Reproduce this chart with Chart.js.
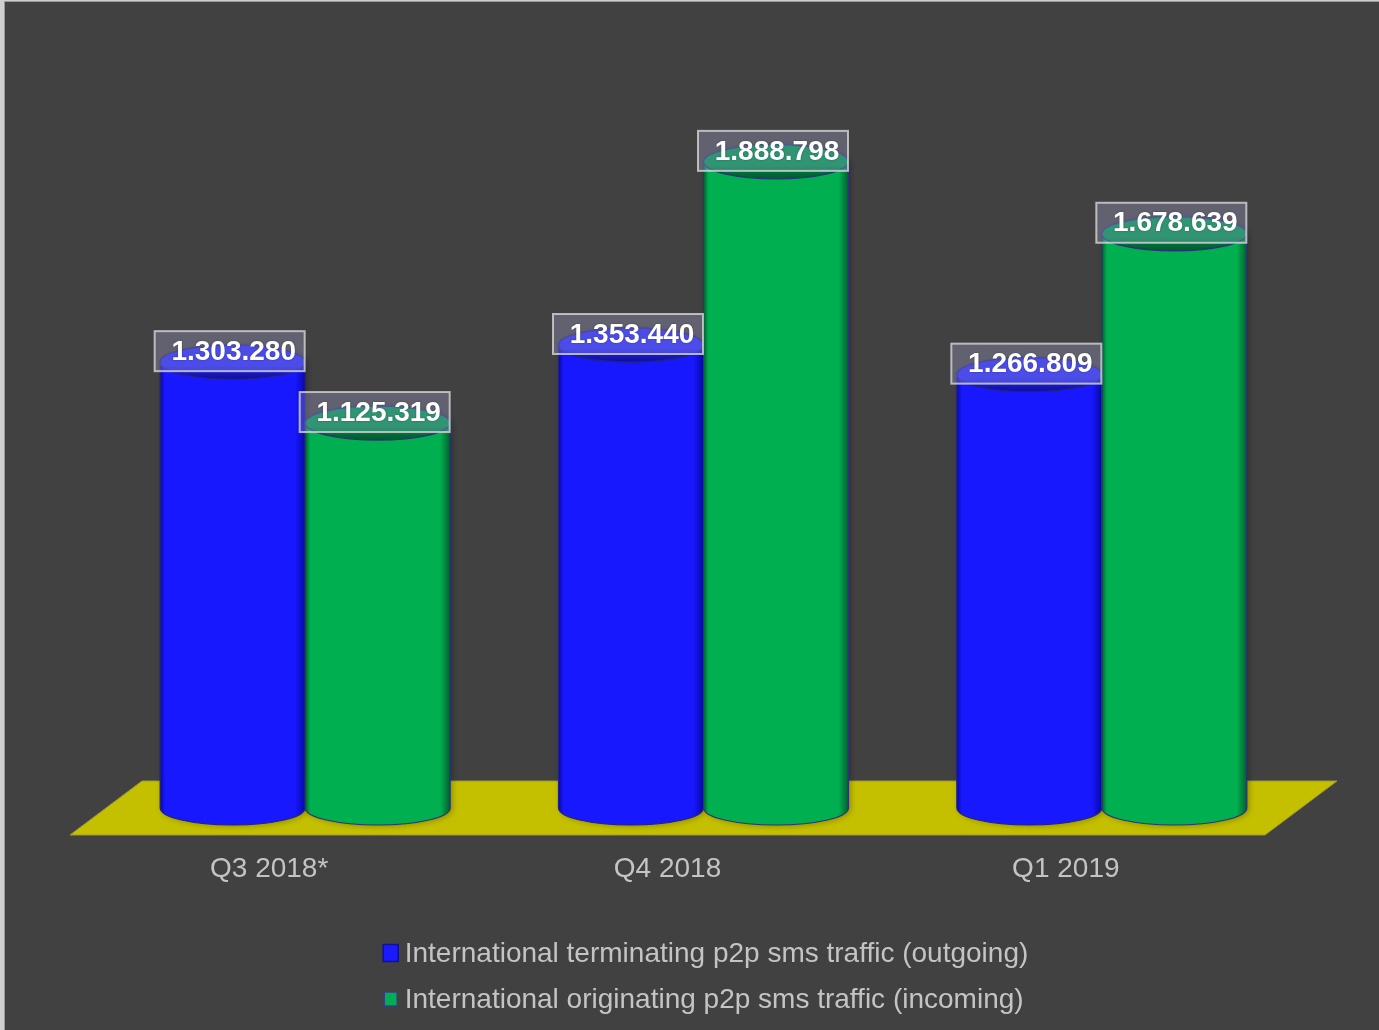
<!DOCTYPE html>
<html>
<head>
<meta charset="utf-8">
<title>International p2p SMS traffic</title>
<script src="https://cdn.jsdelivr.net/npm/chart.js@4/dist/chart.umd.min.js"></script>
<style>
  html, body { margin: 0; padding: 0; background: #404040; }
  canvas { display: block; }
</style>
</head>
<body>
<canvas id="chart" width="1379" height="1030"></canvas>
<script>
// Quarterly international person-to-person SMS traffic
const categories = ['Q3 2018*', 'Q4 2018', 'Q1 2019'];
const seriesNames = [
  'International terminating p2p sms traffic (outgoing)',
  'International originating p2p sms traffic (incoming)'
];
const outgoing = [1303280, 1353440, 1266809];
const incoming = [1125319, 1888798, 1678639];

const FONT = '"Liberation Sans", Arial, sans-serif';
const TEXT_GREY = '#c4c4c4';

// pseudo-3D depth: bars stand half way back on the floor
const DEPTH_X = 72, DEPTH_Y = 54;
const DX = DEPTH_X / 2, DY = -DEPTH_Y / 2;
const RY = 17; // vertical radius of cylinder ellipses

const palettes = [
  { main: '#1818ff', edge: '#0808a8', topA: '#2525e2', topB: '#0d0da0', line: '#23237a', key: '#1a1aff', keyLine: '#12128c' },
  { main: '#00b050', edge: '#005f2e', topA: '#008444', topB: '#005a2e', line: '#2b3478', key: '#00b050', keyLine: '#3a3a86' }
];

function fmt(v) {
  return String(v).replace(/\B(?=(\d{3})+(?!\d))/g, '.');
}

const backdrop = {
  id: 'backdrop',
  beforeDraw(chart) {
    const c = chart.ctx, W = chart.width, H = chart.height;
    c.save();
    c.fillStyle = '#cfcfcf';
    c.fillRect(0, 0, W, H);
    c.fillStyle = '#9a9a9a';
    c.fillRect(4, 1, W, H);
    c.fillStyle = '#414141';
    c.fillRect(5, 2, W, H);
    c.restore();
  }
};

const floor = {
  id: 'floor',
  beforeDatasetsDraw(chart) {
    const c = chart.ctx, a = chart.chartArea;
    c.save();
    c.beginPath();
    c.moveTo(a.left, a.bottom);
    c.lineTo(a.right, a.bottom);
    c.lineTo(a.right + DEPTH_X, a.bottom - DEPTH_Y);
    c.lineTo(a.left + DEPTH_X, a.bottom - DEPTH_Y);
    c.closePath();
    c.fillStyle = '#c4c000';
    c.fill();
    c.strokeStyle = '#9c9832';
    c.lineWidth = 1;
    c.stroke();
    c.restore();
  }
};

function drawCylinder(c, x, top, base, w, p) {
  const rx = w / 2;
  // body
  c.save();
  c.beginPath();
  c.moveTo(x - rx, top);
  c.lineTo(x - rx, base);
  c.ellipse(x, base, rx, RY, 0, Math.PI, 0, true);
  c.lineTo(x + rx, top);
  c.ellipse(x, top, rx, RY, 0, 0, Math.PI, true);
  c.closePath();
  const g = c.createLinearGradient(x - rx, 0, x + rx, 0);
  g.addColorStop(0, p.edge);
  g.addColorStop(0.035, p.main);
  g.addColorStop(0.93, p.main);
  g.addColorStop(1, p.edge);
  c.shadowColor = 'rgba(0,0,0,0.3)';
  c.shadowBlur = 6;
  c.shadowOffsetX = 2;
  c.shadowOffsetY = 1;
  c.fillStyle = g;
  c.fill();
  c.shadowColor = 'transparent';
  c.strokeStyle = p.line;
  c.lineWidth = 1.2;
  c.stroke();
  // top cap
  c.beginPath();
  c.ellipse(x, top, rx, RY, 0, 0, Math.PI * 2);
  const t = c.createLinearGradient(0, top - RY, 0, top + RY);
  t.addColorStop(0, p.topA);
  t.addColorStop(0.6, p.topA);
  t.addColorStop(1, p.topB);
  c.fillStyle = t;
  c.fill();
  c.strokeStyle = p.line;
  c.lineWidth = 1.4;
  c.stroke();
  c.restore();
}

const cylinders = {
  id: 'cylinders',
  afterDatasetsDraw(chart) {
    const c = chart.ctx;
    chart.data.datasets.forEach((ds, di) => {
      const meta = chart.getDatasetMeta(di);
      meta.data.forEach(el => {
        drawCylinder(c, el.x + DX, el.y + DY, el.base + DY, el.width, palettes[di]);
      });
    });
    // value boxes
    chart.data.datasets.forEach((ds, di) => {
      const meta = chart.getDatasetMeta(di);
      meta.data.forEach((el, i) => {
        const cx = el.x + DX - 3, cy = el.y + DY - 11;
        const bw = 150, bh = 40;
        c.save();
        c.fillStyle = 'rgba(195,195,255,0.25)';
        c.fillRect(cx - bw / 2, cy - bh / 2, bw, bh);
        c.strokeStyle = 'rgba(215,215,215,0.8)';
        c.lineWidth = 2;
        c.strokeRect(cx - bw / 2, cy - bh / 2, bw, bh);
        c.fillStyle = '#ffffff';
        c.font = 'bold 28px ' + FONT;
        c.textAlign = 'center';
        c.textBaseline = 'middle';
        c.shadowColor = 'rgba(0,0,0,0.35)';
        c.shadowBlur = 2;
        c.fillText(fmt(ds.data[i]), cx + 4, cy + 1);
        c.restore();
      });
    });
  }
};

const keyList = {
  id: 'keyList',
  afterDraw(chart) {
    const c = chart.ctx, a = chart.chartArea;
    c.save();
    c.font = '28px ' + FONT;
    const widths = chart.data.datasets.map(ds => c.measureText(ds.label).width);
    const total = 22 + Math.max(...widths);
    const left = (a.left + a.right) / 2 + DX - total / 2 + 2;
    const rows = [953, 999];
    const boxes = [{ w: 15, h: 17 }, { w: 13, h: 14 }];
    chart.data.datasets.forEach((ds, di) => {
      const y = rows[di], p = palettes[di], b = boxes[di];
      const bx = left + 8 - b.w / 2;
      c.fillStyle = p.key;
      c.fillRect(bx, y - b.h / 2, b.w, b.h);
      c.strokeStyle = p.keyLine;
      c.lineWidth = 1.5;
      c.strokeRect(bx, y - b.h / 2, b.w, b.h);
      c.fillStyle = TEXT_GREY;
      c.textAlign = 'left';
      c.textBaseline = 'middle';
      c.fillText(ds.label, left + 22, y + 1);
    });
    c.restore();
  }
};

new Chart(document.getElementById('chart'), {
  type: 'bar',
  data: {
    labels: categories,
    datasets: [
      { label: seriesNames[0], data: outgoing, backgroundColor: 'rgba(0,0,0,0)', borderWidth: 0 },
      { label: seriesNames[1], data: incoming, backgroundColor: 'rgba(0,0,0,0)', borderWidth: 0 }
    ]
  },
  options: {
    responsive: false,
    animation: false,
    devicePixelRatio: 1,
    layout: { padding: { left: 70, right: 114, top: 14, bottom: 0 } },
    datasets: { bar: { categoryPercentage: 0.728, barPercentage: 1 } },
    plugins: { legend: { display: false }, tooltip: { enabled: false } },
    scales: {
      x: {
        grid: { display: false, drawTicks: false },
        border: { display: false },
        ticks: { color: TEXT_GREY, font: { family: FONT, size: 28 }, padding: 17 },
        afterFit(scale) { scale.height = 195; }
      },
      y: { display: false, min: 0, max: 2400000 }
    }
  },
  plugins: [backdrop, floor, cylinders, keyList]
});
</script>
</body>
</html>
